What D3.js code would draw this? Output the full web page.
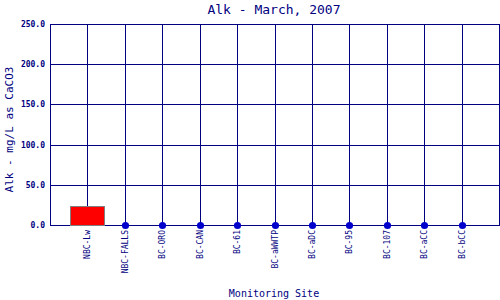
<!DOCTYPE html>
<html>
<head>
<meta charset="utf-8">
<script src="https://cdn.jsdelivr.net/npm/d3@7"></script>
<style>
  body { margin: 0; background: #fff; }
  text { font-family: "DejaVu Sans Mono", monospace; fill: #000080; }
  line, rect { shape-rendering: crispEdges; }
</style>
</head>
<body>
<svg id="vis" width="500" height="300"></svg>
<script>
// chart values
let sites = ["NBC-Lw", "NBC-FALLS", "BC-ORO", "BC-CAN", "BC-61", "BC-aWWTP",
             "BC-aDC", "BC-95", "BC-107", "BC-aCC", "BC-bCC"];
let alk = [22.5, 0, 0, 0, 0, 0, 0, 0, 0, 0, 0];
let yTicks = [0, 50, 100, 150, 200, 250];

let svg = d3.select("#vis");
let plotLeft = 50, plotRight = 499, plotTop = 24, plotBottom = 225;
let navy = "#000080";

let x = d3.scalePoint()
  .domain(sites)
  .range([plotLeft, plotRight])
  .padding(1);
let y = d3.scaleLinear()
  .domain([0, 250])
  .range([plotBottom, plotTop]);

// grid
svg.append("g").selectAll("line")
  .data(yTicks)
  .enter()
  .append("line")
  .attr("x1", plotLeft).attr("x2", plotRight)
  .attr("y1", d => Math.round(y(d)) + 0.5).attr("y2", d => Math.round(y(d)) + 0.5)
  .attr("stroke", navy).attr("stroke-width", 1);

svg.append("g").selectAll("line")
  .data(sites)
  .enter()
  .append("line")
  .attr("x1", d => Math.round(x(d)) + 0.5).attr("x2", d => Math.round(x(d)) + 0.5)
  .attr("y1", plotTop).attr("y2", plotBottom)
  .attr("stroke", navy).attr("stroke-width", 1);

// frame
svg.append("rect")
  .attr("x", plotLeft + 0.5).attr("y", plotTop + 0.5)
  .attr("width", plotRight - plotLeft).attr("height", plotBottom - plotTop)
  .attr("fill", "none").attr("stroke", navy).attr("stroke-width", 1);

// y tick labels
svg.append("g").selectAll("text")
  .data(yTicks)
  .enter()
  .append("text")
  .attr("x", plotLeft - 5)
  .attr("y", d => y(d) + 3)
  .attr("text-anchor", "end")
  .style("font-size", "8px")
  .style("font-weight", "bold")
  .text(d => d.toFixed(1));

// bars and dots
let bw = 34;
svg.append("g").selectAll("rect")
  .data(sites.filter((s, i) => alk[i] > 0))
  .enter()
  .append("rect")
  .attr("x", d => x(d) - bw / 2)
  .attr("y", d => y(alk[sites.indexOf(d)]))
  .attr("width", bw)
  .attr("height", d => plotBottom - y(alk[sites.indexOf(d)]))
  .attr("fill", "#ff0000")
  .attr("stroke", "#808080")
  .attr("stroke-width", 1);

svg.append("g").selectAll("circle")
  .data(sites.filter((s, i) => alk[i] == 0))
  .enter()
  .append("circle")
  .attr("cx", d => Math.round(x(d)) + 0.5)
  .attr("cy", y(0) + 0.5)
  .attr("r", 3.6)
  .attr("fill", "#0000cc");

// x tick labels
svg.append("g").selectAll("text")
  .data(sites)
  .enter()
  .append("text")
  .attr("transform", d => `translate(${x(d) + 3},${plotBottom + 5}) rotate(-90)`)
  .attr("text-anchor", "end")
  .style("font-size", "8px")
  .text(d => d);

// titles
svg.append("text")
  .attr("x", 274).attr("y", 14)
  .attr("text-anchor", "middle")
  .style("font-size", "13px")
  .text("Alk - March, 2007");

svg.append("text")
  .attr("x", 274).attr("y", 297)
  .attr("text-anchor", "middle")
  .style("font-size", "10px")
  .text("Monitoring Site");

svg.append("text")
  .attr("transform", `translate(13,${(plotTop + plotBottom) / 2 + 5}) rotate(-90)`)
  .attr("text-anchor", "middle")
  .style("font-size", "11px")
  .text("Alk - mg/L as CaCO3");
</script>
</body>
</html>
